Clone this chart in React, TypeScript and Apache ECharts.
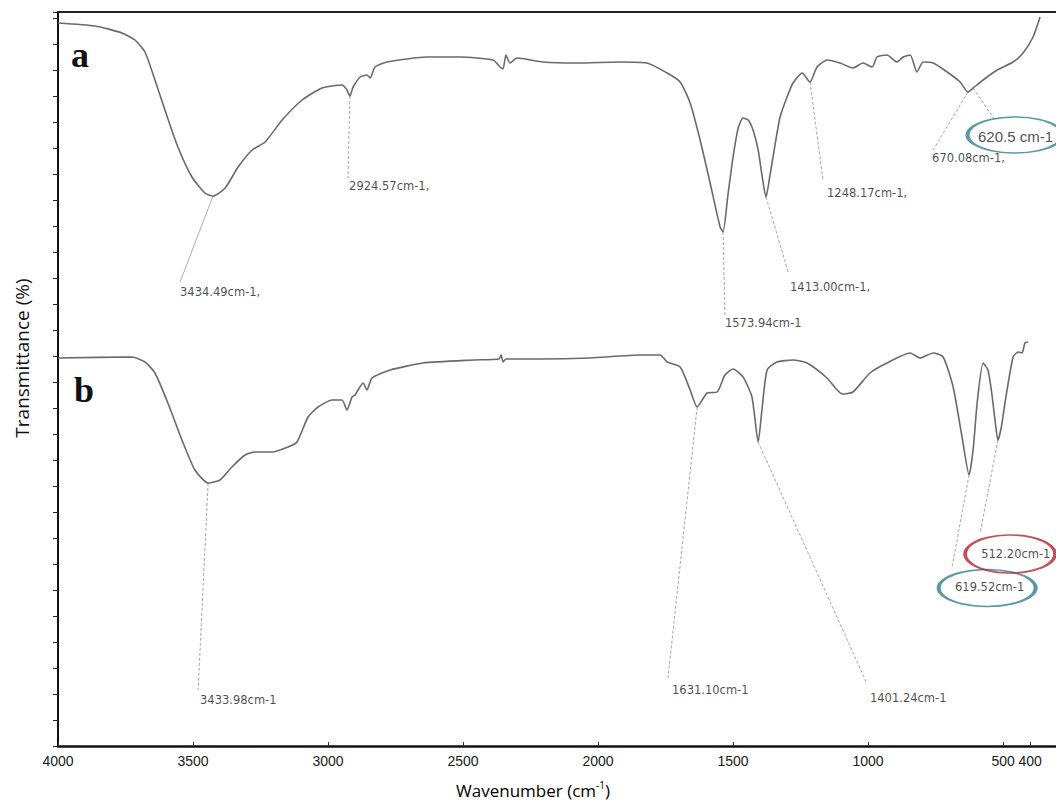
import React, { useEffect, useRef } from "react";
import * as echarts from "echarts";

// Spectrum (a): [wavenumber cm-1, transmittance (arbitrary offset units)]
const spectrumA: [number, number][] = [
  [4000, 144.6], [3863, 144.0], [3763, 142.6], [3715, 141.2], [3678, 138.8], [3641, 133.2],
  [3604, 127.2], [3556, 119.8], [3504, 113.8], [3456, 110.6], [3426, 110.0], [3381, 111.6],
  [3333, 115.8], [3281, 119.2], [3233, 120.8], [3170, 125.2], [3096, 129.2], [3022, 131.6],
  [2948, 132.2], [2930, 131.2], [2919, 130.0], [2907, 131.8], [2881, 133.8], [2856, 134.2],
  [2844, 133.6], [2826, 135.8], [2781, 136.8], [2633, 137.8], [2511, 137.8], [2389, 137.2],
  [2363, 135.8], [2352, 135.4], [2341, 138.2], [2326, 136.6], [2300, 137.6], [2204, 136.8],
  [2078, 136.6], [1919, 136.8], [1819, 136.6], [1744, 134.6], [1696, 132.8], [1659, 128.6],
  [1622, 121.2], [1585, 112.6], [1548, 103.8], [1537, 102.8], [1519, 110.2], [1500, 117.8],
  [1481, 123.6], [1463, 125.6], [1444, 125.2], [1426, 123.2], [1407, 119.2], [1393, 114.2],
  [1378, 109.8], [1363, 114.2], [1352, 117.8], [1326, 125.8], [1300, 129.8], [1278, 132.6],
  [1244, 134.6], [1215, 132.8], [1189, 135.8], [1152, 137.2], [1104, 136.6], [1056, 135.6],
  [1019, 136.6], [985, 135.8], [967, 137.8], [930, 138.2], [893, 136.8], [870, 137.8],
  [844, 138.2], [819, 134.8], [796, 136.8], [759, 136.6], [707, 134.8], [659, 132.8],
  [630, 130.8], [611, 131.6], [574, 133.2], [522, 135.2], [463, 136.8], [426, 138.6],
  [389, 141.8], [363, 145.8],
];

// Spectrum (b)
const spectrumB: [number, number][] = [
  [4000, 77.6], [3726, 77.8], [3678, 76.8], [3641, 74.6], [3593, 68.6], [3541, 61.2],
  [3493, 55.2], [3444, 52.6], [3400, 53.2], [3356, 55.8], [3307, 58.2], [3270, 58.8],
  [3207, 58.8], [3148, 59.8], [3115, 60.8], [3074, 65.8], [3037, 67.8], [2985, 69.2],
  [2948, 69.2], [2930, 67.2], [2911, 69.8], [2900, 70.2], [2870, 72.6], [2856, 71.2],
  [2837, 73.6], [2770, 75.2], [2648, 76.6], [2463, 77.2], [2367, 77.4], [2359, 78.2],
  [2352, 76.8], [2341, 77.4], [2215, 77.4], [2030, 77.6], [1844, 78.2], [1770, 78.2],
  [1744, 76.8], [1696, 75.8], [1659, 71.2], [1633, 67.8], [1596, 70.6], [1559, 70.8],
  [1530, 74.2], [1500, 75.4], [1463, 73.8], [1430, 69.8], [1407, 60.8], [1393, 67.2],
  [1374, 75.2], [1337, 76.8], [1278, 77.2], [1226, 76.6], [1152, 73.6], [1096, 70.4],
  [1056, 70.8], [993, 74.6], [930, 76.6], [844, 78.6], [807, 77.6], [759, 78.6],
  [722, 77.8], [685, 71.8], [652, 61.8], [626, 54.2], [611, 59.2], [596, 68.6],
  [574, 76.6], [556, 75.2], [541, 70.2], [530, 65.2], [519, 61.2], [507, 63.6],
  [493, 68.6], [463, 77.8], [444, 78.8], [430, 78.6], [419, 80.6], [407, 80.8],
];

const xTickValues = [4000, 3500, 3000, 2500, 2000, 1500, 1000, 500, 400];

// Peak annotations: label text, peak point, leader end, text anchor
const peakTexts = [
  "3434.49cm-1,", "2924.57cm-1,", "1573.94cm-1", "1413.00cm-1,", "1248.17cm-1,", "670.08cm-1,", "620.5 cm-1",
  "3433.98cm-1", "1631.10cm-1", "1401.24cm-1", "619.52cm-1", "512.20cm-1",
];
const peakPoints: [number, number][] = [
  [3426, 110.0], [2919, 130.0], [1537, 102.8], [1378, 109.8], [1215, 132.8], [630, 130.8], [611, 131.6],
  [3444, 52.6], [1633, 67.8], [1407, 60.8], [626, 54.2], [519, 61.2],
];
const leaderEnds: [number, number][] = [
  [3548, 92.8], [2926, 113.6], [1530, 86.2], [1296, 94.8], [1167, 113.2], [759, 119.2], [530, 125.2],
  [3481, 11.2], [1741, 13.6], [1007, 12.8], [689, 35.8], [585, 42.6],
];
const textAnchors: [number, number][] = [
  [3548, 90.8], [2922, 112.0], [1530, 84.6], [1289, 91.8], [1152, 110.6], [763, 117.6], [593, 122.0],
  [3474, 9.2], [1726, 11.2], [993, 9.6], [678, 31.8], [581, 38.4],
];

// Highlight rings
const ringCenters: [number, number][] = [[456, 122.2], [559, 31.6], [474, 38.4]];
const ringSizes: [number, number][] = [[95, 36], [97, 37], [90, 38]];
const ringColors = ["#2d7f8e", "#2d7f8e", "#b0262c"];

export default function App() {
  const ref = useRef<HTMLDivElement>(null);

  useEffect(() => {
    if (!ref.current) return;
    const chart = echarts.init(ref.current, null, { renderer: "svg" });

    const leaderSeries = peakPoints.map((p, i) => ({
      type: "line",
      data: [p, leaderEnds[i]],
      symbol: "none",
      silent: true,
      z: 1,
      lineStyle: { color: i === 0 ? "#b0b0b0" : "#a5a5a5", width: 1, type: i === 0 ? "solid" : [3, 2] },
    }));

    const option: any = {
      animation: false,
      backgroundColor: "#ffffff",
      grid: { left: 58, right: 0, top: 12, bottom: 56 },
      xAxis: [
        {
          type: "value",
          inverse: true,
          min: 304,
          max: 4000,
          axisLine: { show: true, onZero: false, lineStyle: { color: "#111", width: 2.5 } },
          axisTick: { show: true, inside: true, length: 4, customValues: xTickValues, lineStyle: { color: "#333" } },
          axisLabel: {
            customValues: xTickValues,
            formatter: (v: number) => String(v),
            color: "#1a1a1a",
            fontSize: 14,
            fontFamily: "Liberation Sans",
            margin: 8,
            hideOverlap: false,
          },
          splitLine: { show: false },
        },
        {
          type: "value",
          position: "top",
          inverse: true,
          min: 304,
          max: 4000,
          axisLine: { show: true, onZero: false, lineStyle: { color: "#222", width: 2 } },
          axisTick: { show: false },
          axisLabel: { show: false },
          splitLine: { show: false },
        },
      ],
      yAxis: {
        type: "value",
        min: 0,
        max: 146.8,
        interval: 5.2,
        axisLine: { show: true, onZero: false, lineStyle: { color: "#111", width: 2 } },
        axisTick: { show: true, length: 5, lineStyle: { color: "#222" } },
        axisLabel: { show: false },
        splitLine: { show: false },
      },
      graphic: [
        {
          type: "text",
          left: 71,
          top: 37,
          style: { text: "a", font: 'bold 36px "Liberation Serif"', fill: "#111" },
        },
        {
          type: "text",
          left: 74,
          top: 372,
          style: { text: "b", font: 'bold 36px "Liberation Serif"', fill: "#111" },
        },
        {
          type: "text",
          x: 22,
          y: 358,
          rotation: Math.PI / 2,
          style: {
            text: "Transmittance (%)",
            font: '19px "Open Sans"',
            fill: "#111",
            align: "center",
            verticalAlign: "middle",
          },
        },
        {
          type: "text",
          x: 533,
          y: 790,
          style: {
            text: "{n|Wavenumber (cm}{s|-1}{n|)}",
            align: "center",
            verticalAlign: "middle",
            rich: {
              n: { fontSize: 17, fontFamily: "Open Sans", color: "#111", lineHeight: 20 },
              s: { fontSize: 10, fontFamily: "Open Sans", color: "#111", lineHeight: 20, verticalAlign: "top" },
            },
          },
        },
      ],
      series: [
        {
          type: "line",
          data: spectrumA,
          showSymbol: false,
          smooth: 0.2,
          z: 3,
          lineStyle: { color: "#6a6a6a", width: 1.6 },
        },
        {
          type: "line",
          data: spectrumB,
          showSymbol: false,
          smooth: 0.2,
          z: 3,
          lineStyle: { color: "#6a6a6a", width: 1.6 },
        },
        ...leaderSeries,
        {
          type: "scatter",
          silent: true,
          z: 2,
          data: ringCenters.map((c, i) => ({
            value: c,
            symbolSize: ringSizes[i],
            itemStyle: { color: "rgba(0,0,0,0)", borderColor: ringColors[i], borderWidth: 2.5 },
          })),
        },
        {
          type: "scatter",
          silent: true,
          z: 4,
          symbolSize: 0,
          data: textAnchors.map((t, i) => ({
            value: t,
            name: peakTexts[i],
            label:
              i === 6
                ? { fontSize: 15, fontFamily: "Liberation Sans", color: "#222" }
                : undefined,
          })),
          label: {
            show: true,
            position: "right",
            distance: 0,
            formatter: (p: any) => p.name,
            fontSize: 11.5,
            fontFamily: "DejaVu Sans",
            color: "#1a1a1a",
          },
        },
      ],
    };

    chart.setOption(option);
    return () => chart.dispose();
  }, []);

  return (
    <div
      ref={ref}
      style={{ position: "absolute", left: 0, top: 0, width: 1056, height: 802, background: "#fff" }}
    />
  );
}
